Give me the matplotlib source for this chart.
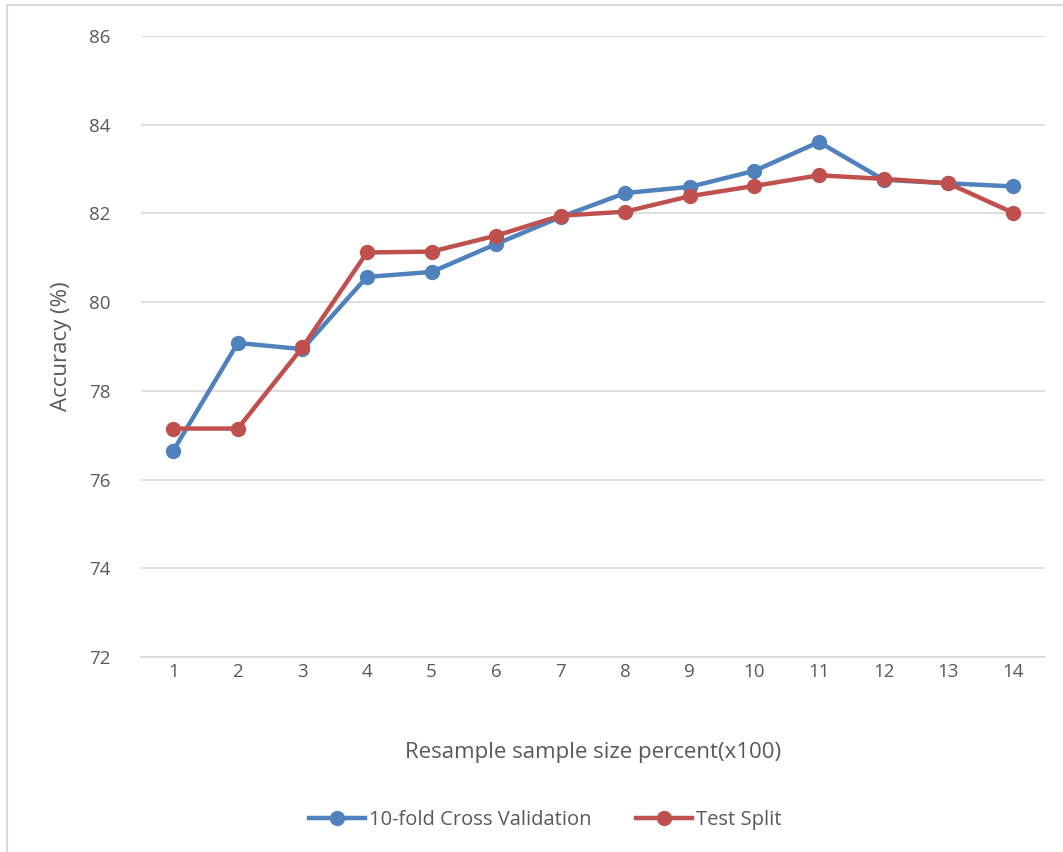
import matplotlib.pyplot as plt
from matplotlib.patches import Rectangle

# resample size (x100) and accuracy of the two evaluation schemes
sizes = [1, 2, 3, 4, 5, 6, 7, 8, 9, 10, 11, 12, 13, 14]
cv_acc = [76.65, 79.08, 78.94, 80.57, 80.68, 81.31, 81.92, 82.46, 82.60, 82.96, 83.61, 82.76, 82.68, 82.61]
split_acc = [77.15, 77.15, 78.98, 81.12, 81.14, 81.50, 81.95, 82.04, 82.39, 82.62, 82.86, 82.78, 82.68, 82.02]

BLUE = '#4f81bd'
RED = '#c0504d'
GREY = '#595959'

plt.rcParams['font.family'] = ['Open Sans', 'DejaVu Sans']

fig = plt.figure(figsize=(10.63, 8.52), dpi=100)
ax = fig.add_axes([0.1326, 0.2289, 0.8504, 0.7288])

ax.plot(sizes, cv_acc, color=BLUE, lw=3.2, marker='o', ms=10,
        label='10-fold Cross Validation', solid_joinstyle='round')
ax.plot(sizes, split_acc, color=RED, lw=3.2, marker='o', ms=10,
        label='Test Split', solid_joinstyle='round')

ax.set_xlim(0.5, 14.5)
ax.set_ylim(72, 86)
ax.set_xticks(sizes)
ax.set_yticks(range(72, 87, 2))
ax.grid(axis='y', color='#d9d9d9', lw=1.2)
ax.set_axisbelow(True)
for s in ['top', 'right', 'left']:
    ax.spines[s].set_visible(False)
ax.spines['bottom'].set_color('#d9d9d9')
ax.spines['bottom'].set_linewidth(1.2)
ax.tick_params(length=0, labelsize=13.5, colors=GREY)
ax.tick_params(axis='x', pad=4)
ax.tick_params(axis='y', pad=22)

ax.set_xlabel('Resample sample size percent(x100)', fontsize=16, color=GREY, labelpad=44)
ax.set_ylabel('Accuracy (%)', fontsize=16, color=GREY, labelpad=12)

fig.legend(loc='center', bbox_to_anchor=(0.513, 0.038), ncol=2, frameon=False,
           fontsize=14.5, labelcolor=GREY, handlelength=2.8, columnspacing=2.2,
           handletextpad=0.2)

# outer chart frame
fig.patches.append(Rectangle((0.007, -0.01), 1.0, 1.004, transform=fig.transFigure,
                             fill=False, edgecolor='#d9d9d9', lw=1.5))

fig.savefig('out.png', dpi=100)
